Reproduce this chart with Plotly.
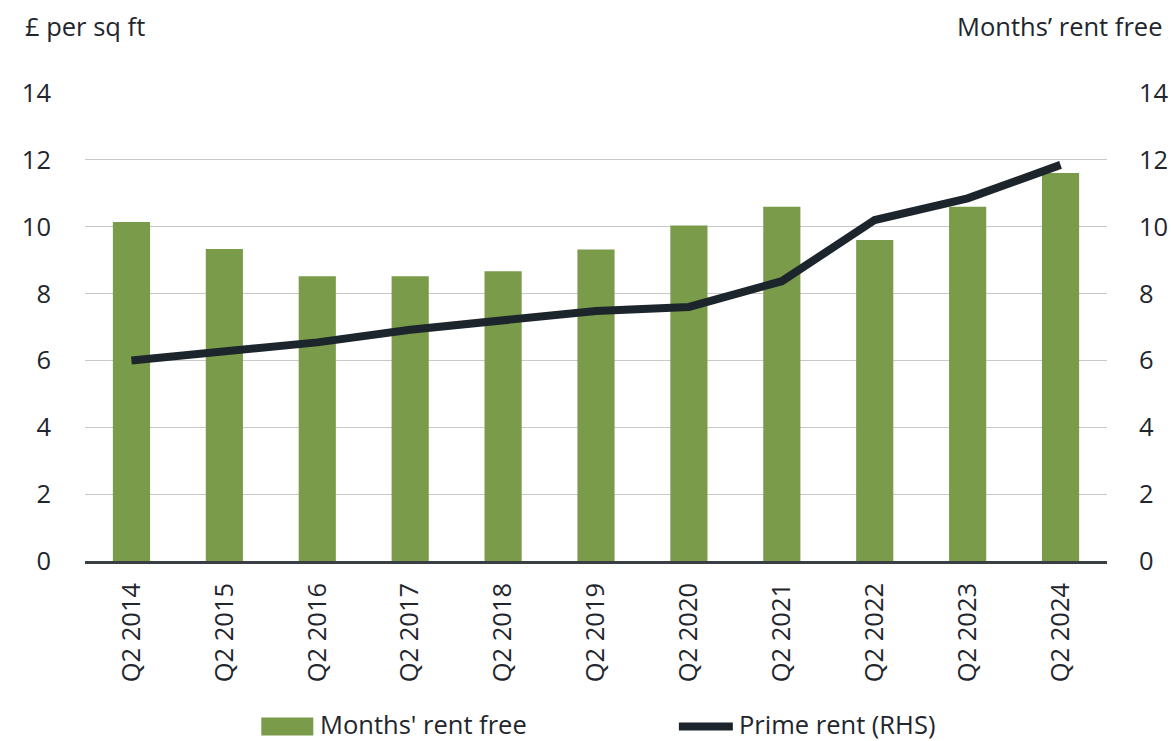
import plotly.graph_objects as go

categories = ["Q2 2014", "Q2 2015", "Q2 2016", "Q2 2017", "Q2 2018", "Q2 2019",
              "Q2 2020", "Q2 2021", "Q2 2022", "Q2 2023", "Q2 2024"]
months_rent_free = [10.14, 9.33, 8.52, 8.52, 8.67, 9.32, 10.04, 10.6, 9.6, 10.6, 11.61]
prime_rent = [6.0, 6.3, 6.54, 6.92, 7.23, 7.48, 7.6, 8.37, 10.2, 10.85, 11.85]
y_ticks = [0, 2, 4, 6, 8, 10, 12, 14]

bar_name = "Months' rent free"
line_name = "Prime rent (RHS)"
left_title = "£ per sq ft"
right_title = "Months’ rent free"

GREEN = "#7a9c4a"
DARK = "#1d252c"
TEXT = "#1f262d"
FONT = "Open Sans"
FS = 25.5

fig = go.Figure()
fig.add_trace(go.Bar(x=categories, y=months_rent_free, name=bar_name,
                     marker=dict(color=GREEN, line=dict(width=0)),
                     yaxis="y", showlegend=False))
fig.add_trace(go.Scatter(x=categories, y=prime_rent, name=line_name, mode="lines",
                         line=dict(color=DARK, width=8), yaxis="y2", showlegend=False))

fig.update_layout(
    width=1171, height=741,
    margin=dict(l=85, r=64, t=93, b=180, autoexpand=False),
    paper_bgcolor="white", plot_bgcolor="white",
    font=dict(family=FONT, size=FS, color=TEXT),
    bargap=0.6,
    xaxis=dict(tickangle=-90, showgrid=False, showline=True, linecolor="#3a3f44",
               linewidth=2.5, ticks="", ticklabelstandoff=9, automargin=False,
               tickfont=dict(size=FS, color=TEXT)),
    yaxis=dict(range=[0, 14], tickvals=y_ticks, showgrid=True, gridcolor="#c8c8c8",
               gridwidth=1.3, zeroline=False, showline=False, ticks="",
               ticklabelstandoff=33, automargin=False, tickfont=dict(size=FS, color=TEXT)),
    yaxis2=dict(range=[0, 14], tickvals=y_ticks, overlaying="y", side="right",
                showgrid=False, zeroline=False, showline=False, ticks="",
                ticklabelstandoff=31, automargin=False, tickfont=dict(size=FS, color=TEXT)),
    showlegend=False,
)

# axis titles
fig.add_annotation(text=left_title, xref="paper", yref="paper", x=-0.0611, y=1.144,
                   xanchor="left", yanchor="middle", showarrow=False,
                   font=dict(size=FS, color=TEXT))
fig.add_annotation(text=right_title, xref="paper", yref="paper", x=1.0562, y=1.144,
                   xanchor="right", yanchor="middle", showarrow=False,
                   font=dict(size=FS, color=TEXT))

# legend
fig.add_shape(type="rect", xref="paper", yref="paper", x0=0.1725, x1=0.2234,
              y0=-0.3729, y1=-0.3344, fillcolor=GREEN, line=dict(width=0))
fig.add_annotation(text=bar_name, xref="paper", yref="paper", x=0.2283, y=-0.348,
                   xanchor="left", yanchor="middle", showarrow=False,
                   font=dict(size=FS, color=TEXT))
fig.add_shape(type="line", xref="paper", yref="paper", x0=0.5811, x1=0.6339,
              y0=-0.3537, y1=-0.3537, line=dict(color=DARK, width=8))
fig.add_annotation(text=line_name, xref="paper", yref="paper", x=0.6378, y=-0.348,
                   xanchor="left", yanchor="middle", showarrow=False,
                   font=dict(size=FS, color=TEXT))

fig.write_html("out.html", config={"displayModeBar": False},
               post_script="document.body.style.margin='0px';document.body.style.overflow='hidden';")
